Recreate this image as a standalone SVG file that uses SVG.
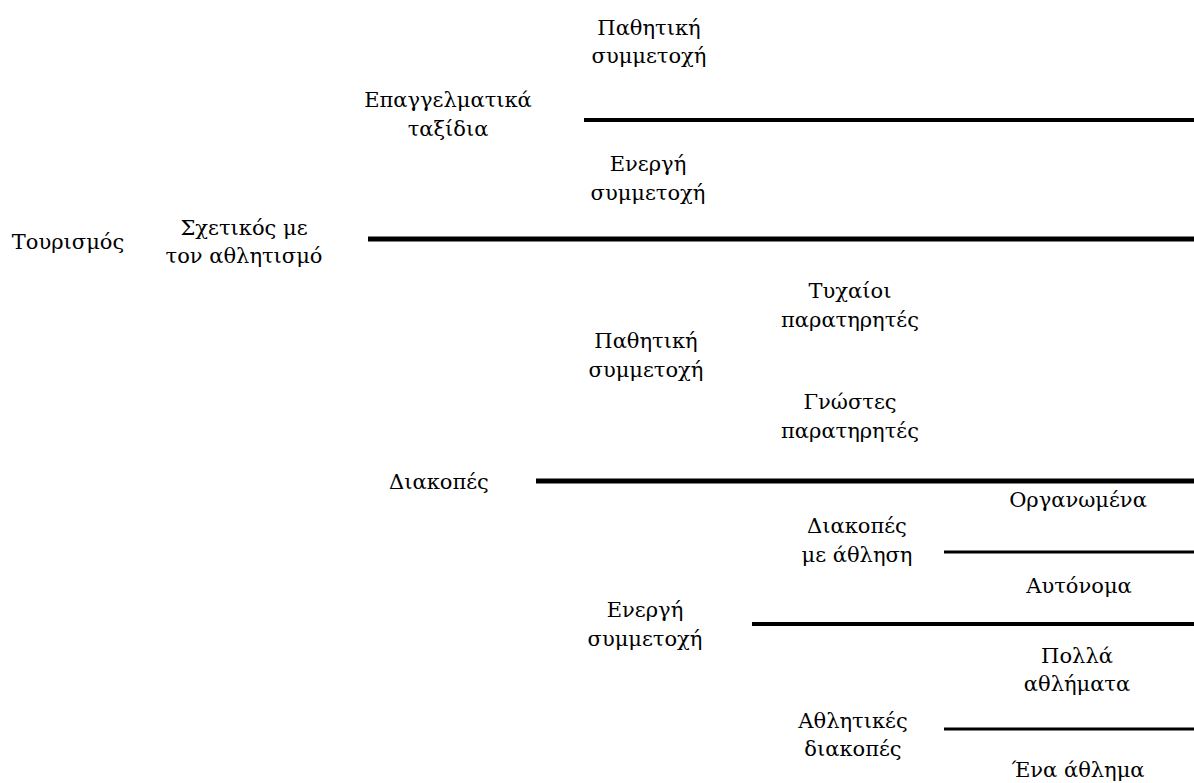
<svg xmlns="http://www.w3.org/2000/svg" width="1194" height="783" viewBox="0 0 1194 783">
<style>
text{font-family:'DejaVu Serif',serif;font-size:21px;fill:#000;text-anchor:middle}
.ln{stroke:#000;fill:none}
</style>
<rect width="1194" height="783" fill="#fff"/>
<g id="connectors">
<line class="ln" x1="584" y1="120" x2="1194" y2="120" stroke-width="4"/>
<line class="ln" x1="368" y1="239" x2="1194" y2="239" stroke-width="5"/>
<line class="ln" x1="536" y1="481" x2="1194" y2="481" stroke-width="5"/>
<line class="ln" x1="944" y1="552" x2="1194" y2="552" stroke-width="3"/>
<line class="ln" x1="752" y1="624" x2="1194" y2="624" stroke-width="4"/>
<line class="ln" x1="944" y1="729" x2="1194" y2="729" stroke-width="3"/>
</g>
<g id="n-tourismos"><text x="68" y="249">Τουρισμός</text></g>
<g id="n-sxetikos"><text x="244" y="235">Σχετικός με</text><text x="244" y="263">τον αθλητισμό</text></g>
<g id="n-epaggelmatika"><text x="448" y="107">Επαγγελματικά</text><text x="448" y="136">ταξίδια</text></g>
<g id="n-pathitiki1"><text x="649" y="35">Παθητική</text><text x="649" y="63">συμμετοχή</text></g>
<g id="n-energi1"><text x="648" y="171">Ενεργή</text><text x="648" y="200">συμμετοχή</text></g>
<g id="n-diakopes"><text x="439" y="489">Διακοπές</text></g>
<g id="n-pathitiki2"><text x="646" y="348">Παθητική</text><text x="646" y="377">συμμετοχή</text></g>
<g id="n-tyxaioi"><text x="850" y="298">Τυχαίοι</text><text x="850" y="327">παρατηρητές</text></g>
<g id="n-gnostes"><text x="850" y="409">Γνώστες</text><text x="850" y="438">παρατηρητές</text></g>
<g id="n-energi2"><text x="645" y="617">Ενεργή</text><text x="645" y="646">συμμετοχή</text></g>
<g id="n-diakopes-athlisi"><text x="857" y="533">Διακοπές</text><text x="857" y="562">με άθληση</text></g>
<g id="n-organomena"><text x="1078" y="507">Οργανωμένα</text></g>
<g id="n-autonoma"><text x="1079" y="593">Αυτόνομα</text></g>
<g id="n-athlitikes"><text x="853" y="728">Αθλητικές</text><text x="853" y="756">διακοπές</text></g>
<g id="n-polla"><text x="1077" y="663">Πολλά</text><text x="1077" y="691">αθλήματα</text></g>
<g id="n-ena"><text x="1078" y="777">Ένα άθλημα</text></g>
</svg>
